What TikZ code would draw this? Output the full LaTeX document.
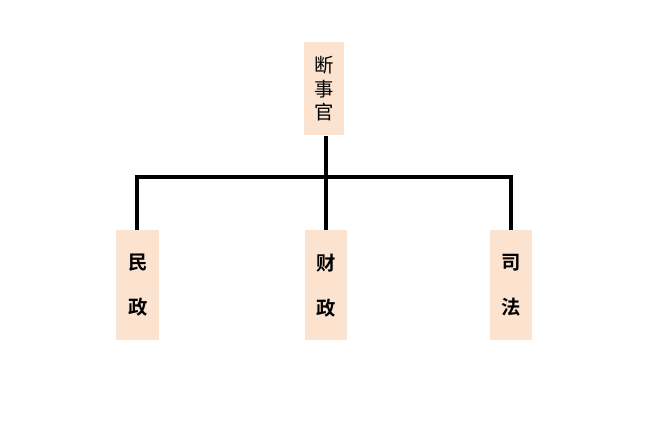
\documentclass[tikz,border=0pt]{standalone}
\usepackage{fontspec}
\newfontfamily\cjk{Noto Sans CJK SC}[BoldFont={Noto Sans CJK SC Bold}]
\definecolor{peach}{HTML}{FBE3CF}
\begin{document}
\begin{tikzpicture}[x=0.75pt,y=-0.75pt,
  box/.style={fill=peach,draw=none,inner sep=0pt,anchor=north west},
  conn/.style={line width=2.4pt,black},
  toptxt/.style={font=\cjk\fontsize{14.5}{17.5}\selectfont,align=center},
  bottxt/.style={font=\cjk\bfseries\fontsize{14.5}{33.75}\selectfont,align=center}]
\useasboundingbox[fill=white] (0,0) rectangle (650,427);
\node[box,minimum width=40*0.75pt,minimum height=93*0.75pt] (top) at (304,42) {};
\node[toptxt] at (top.center) {断\\事\\官};
\node[box,minimum width=43*0.75pt,minimum height=110*0.75pt] (a) at (116,230) {};
\node[box,minimum width=42*0.75pt,minimum height=110*0.75pt] (b) at (305,230) {};
\node[box,minimum width=42*0.75pt,minimum height=110*0.75pt] (c) at (490,230) {};
\node[bottxt] at (a.center) {民\\政};
\node[bottxt] at (b.center) {财\\政};
\node[bottxt] at (c.center) {司\\法};
\coordinate (j) at (326,177);
\coordinate (jl) at (137,177);
\coordinate (jr) at (511,177);
\draw[conn] (top.south -| j) -- (j);
\draw[conn,line join=miter] (a.north -| jl) -- (jl) -- (jr) -- (c.north -| jr);
\draw[conn] (j) -- (b.north -| j);
\end{tikzpicture}
\end{document}
